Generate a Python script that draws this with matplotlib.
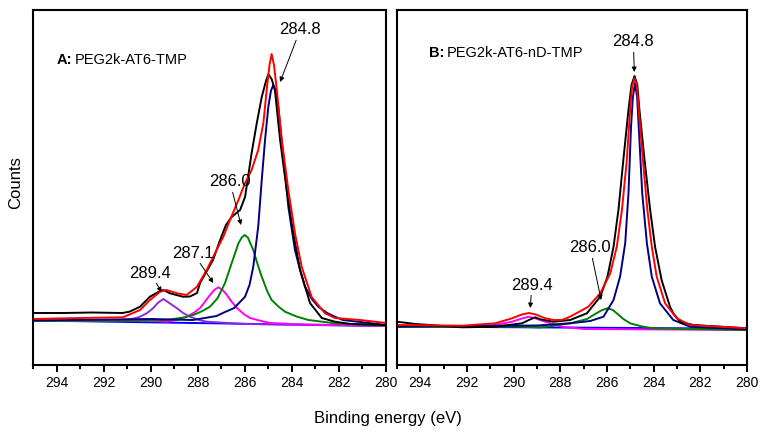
"""C1s XPS spectra of the two PEG2k-AT6 samples with fitted components."""

import matplotlib

matplotlib.use("Agg")

import matplotlib.pyplot as plt
from matplotlib.ticker import MultipleLocator

plt.rcParams["font.family"] = ["Liberation Sans", "DejaVu Sans"]

# ---- panel A: PEG2k-AT6-TMP (binding energy eV, counts a.u.) ----
a_raw_e = [295.0, 293.7, 292.5, 291.2, 290.9, 290.45, 290.03, 289.6, 289.45, 289.18,
           288.63, 288.33, 288.03, 287.9, 287.35, 287.05, 286.8, 286.56, 286.2, 285.99,
           285.88, 285.71, 285.49, 285.28, 285.1, 285.0, 284.86, 284.72, 284.5, 284.22,
           283.94, 283.65, 283.23, 282.73, 282.17, 281.5, 280.0]
a_raw_y = [52, 52, 52.5, 52, 53.3, 58.3, 68.3, 74, 75, 71.7,
           68.3, 68.5, 72, 82, 105, 125, 140, 148, 155, 168,
           185, 212, 242, 268, 284, 290.7, 286, 275, 225, 175,
           132, 95, 62, 47, 43.3, 41, 40]

a_env_e = [295.0, 293.0, 291.18, 290.45, 290.03, 289.6, 289.33, 288.88, 288.47, 288.04,
           287.62, 287.27, 286.91, 286.63, 286.27, 285.99, 285.71, 285.43, 285.21, 285.07,
           284.95, 284.86, 284.76, 284.64, 284.43, 284.15, 283.87, 283.58, 283.16, 282.59,
           282.17, 281.1, 280.0]
a_env_y = [46, 47, 47.7, 55, 65, 73.3, 75, 71.7, 70, 78,
           95, 111.7, 128.3, 145, 165, 182, 195, 215, 242, 275,
           300, 311, 300, 275, 225, 175, 132, 98, 68, 51.7,
           47, 45, 42]

a_c1_e = [295.0, 290.0, 288.2, 287.2, 286.84, 286.45, 285.99, 285.8, 285.64, 285.43,
          285.28, 285.14, 285.0, 284.89, 284.79, 284.69, 284.58, 284.36, 284.15, 283.87,
          283.64, 283.44, 283.15, 282.88, 282.5, 282.17, 281.83, 280.0]
a_c1_y = [44.5, 46, 45, 49, 53, 57, 68.3, 80, 98.3, 138.3,
          185, 225, 258.3, 274, 280, 274, 258.3, 208.3, 158.3, 115,
          94, 78.3, 66, 58.3, 52, 48.3, 45, 40]

a_c2_e = [295.0, 291.0, 289.32, 288.6, 288.19, 287.8, 287.48, 287.15, 286.84, 286.56,
          286.27, 286.13, 286.0, 285.87, 285.64, 285.46, 285.28, 285.05, 284.86, 284.55,
          284.29, 283.8, 283.3, 282.17, 280.0]
a_c2_y = [44, 44.5, 45, 47.5, 50, 54, 58.3, 67, 82, 101.7,
          121.7, 127.5, 130, 127.5, 115, 101, 88.3, 74, 65, 58,
          53.3, 48.5, 45, 41.7, 39.5]

a_c3_e = [295.0, 290.0, 289.32, 288.8, 288.46, 288.15, 287.9, 287.7, 287.48, 287.3,
          287.12, 286.94, 286.76, 286.55, 286.33, 286.05, 285.78, 285.3, 284.93, 283.5, 280.0]
a_c3_y = [44, 44.5, 43.3, 45.5, 48.3, 52.5, 57, 63, 70, 75,
          77.7, 75, 70, 63, 57, 51, 47, 44, 42, 40.5, 39.5]

a_c4_e = [295.0, 293.73, 291.18, 290.7, 290.45, 290.15, 289.9, 289.68, 289.46, 289.24,
          288.88, 288.62, 288.33, 287.95, 287.62, 286.0, 280.0]
a_c4_y = [44.5, 44, 45, 46.5, 48.3, 52, 56.7, 62.5, 66, 62.5,
          56.7, 52, 48.3, 45, 43.3, 41, 39]

a_bg_e = [295.0, 280.0]
a_bg_y = [44.5, 39]

# ---- panel B: PEG2k-AT6-nD-TMP ----
b_raw_e = [295.0, 294.21, 292.21, 290.79, 289.64, 289.3, 289.08, 288.86, 288.29, 287.58,
           286.86, 286.29, 285.98, 285.72, 285.51, 285.3, 285.08, 284.95, 284.82, 284.7,
           284.61, 284.39, 284.15, 283.94, 283.66, 283.3, 283.16, 282.87, 282.3, 280.0]
b_raw_y = [43.3, 41, 37.7, 38.3, 41.7, 45.5, 47.7, 45.7, 43.3, 45,
           51.7, 68.3, 88.3, 118.3, 155, 205, 255, 280, 289, 280,
           255, 205, 155, 118.3, 85, 58.3, 51.7, 43.3, 40, 36.7]

b_env_e = [295.0, 292.21, 290.79, 290.07, 289.65, 289.35, 289.05, 288.65, 288.29, 287.93,
           287.58, 286.8, 286.29, 285.86, 285.58, 285.36, 285.15, 285.01, 284.92, 284.82,
           284.72, 284.64, 284.46, 284.27, 284.08, 283.87, 283.51, 283.01, 282.44, 280.0]
b_env_y = [40, 39.3, 41.7, 46.7, 50.5, 52, 50.5, 46.7, 45, 45,
           48.3, 58.3, 71.7, 91.7, 118.3, 155, 205, 255, 279, 286.7,
           279, 255, 205, 155, 118.3, 88.3, 61.7, 46.7, 40, 36.7]

b_c1_e = [295.0, 289.0, 287.58, 286.72, 286.15, 285.72, 285.44, 285.22, 285.08, 284.97,
          284.89, 284.8, 284.71, 284.64, 284.49, 284.29, 284.08, 283.73, 283.16, 282.44, 280.0]
b_c1_y = [38.5, 39.5, 41.7, 44, 48.3, 65, 88.3, 121.7, 171.7, 238.3,
          268, 281.7, 268, 238.3, 171.7, 121.7, 88.3, 61.7, 45, 38.3, 35.5]

b_c2_e = [295.0, 290.0, 288.86, 287.58, 286.85, 286.58, 286.25, 285.98, 285.75, 285.58,
          285.3, 285.01, 284.5, 284.0, 280.0]
b_c2_y = [38, 38.5, 37.5, 41.7, 46, 50, 54.5, 56.7, 55, 51.7,
          46, 41.7, 38.5, 36.7, 35]

b_c3_e = [295.0, 291.5, 290.79, 290.07, 289.65, 289.35, 289.05, 288.65, 287.93, 287.0, 280.0]
b_c3_y = [38.5, 39, 40, 43.3, 46.5, 48.3, 46.5, 43.3, 38.3, 36, 35]

b_bg_e = [295.0, 280.0]
b_bg_y = [38.5, 36.3]

LW = 1.4
C_RAW, C_ENV, C_MAIN = "black", "#ff0000", "#000080"
C_286, C_287, C_289, C_BG = "#008000", "#ff00ff", "#8a2be2", "#0000ff"

fig = plt.figure(figsize=(7.64, 4.37), dpi=100)
ax_a = fig.add_axes([33 / 764, 72 / 437, 353 / 764, 355 / 437])
ax_b = fig.add_axes([397 / 764, 72 / 437, 350 / 764, 355 / 437])

arrow = dict(arrowstyle="-|>", color="black", lw=0.7, mutation_scale=7, shrinkA=0, shrinkB=0)


def style_axes(ax):
    ax.set_xlim(295, 280)
    ax.set_ylim(0, 355)
    ax.set_yticks([])
    ax.xaxis.set_major_locator(MultipleLocator(2))
    ax.xaxis.set_minor_locator(MultipleLocator(1))
    ax.tick_params(axis="x", which="major", direction="out", length=5, width=1.4,
                   labelsize=10, pad=3)
    ax.tick_params(axis="x", which="minor", direction="out", length=3, width=1.4)
    for spine in ax.spines.values():
        spine.set_linewidth(1.5)


def label(ax, x, y, bold, rest):
    t = ax.text(x, y, bold, fontsize=10.5, fontweight="bold", va="center", ha="left")
    ax.annotate(rest, xy=(1, 0.5), xycoords=t, va="center", ha="left", fontsize=10.5,
                xytext=(2, 0), textcoords="offset points")


# panel A
ax_a.plot(a_bg_e, a_bg_y, color=C_BG, lw=LW)
ax_a.plot(a_c4_e, a_c4_y, color=C_289, lw=LW)
ax_a.plot(a_c3_e, a_c3_y, color=C_287, lw=LW)
ax_a.plot(a_c2_e, a_c2_y, color=C_286, lw=LW)
ax_a.plot(a_c1_e, a_c1_y, color=C_MAIN, lw=LW)
ax_a.plot(a_raw_e, a_raw_y, color=C_RAW, lw=LW)
ax_a.plot(a_env_e, a_env_y, color=C_ENV, lw=LW)
style_axes(ax_a)
label(ax_a, 294.0, 305, "A:", "PEG2k-AT6-TMP")
ax_a.annotate("284.8", xy=(284.5, 283), xytext=(283.65, 335), ha="center", va="center",
              fontsize=12, arrowprops=arrow)
ax_a.annotate("286.0", xy=(286.16, 140), xytext=(286.63, 183), ha="center", va="center",
              fontsize=12, arrowprops=arrow)
ax_a.annotate("287.1", xy=(287.34, 82), xytext=(288.19, 112), ha="center", va="center",
              fontsize=12, arrowprops=arrow)
ax_a.annotate("289.4", xy=(289.53, 73), xytext=(290.03, 92), ha="center", va="center",
              fontsize=12, arrowprops=arrow)

# panel B
ax_b.plot(b_bg_e, b_bg_y, color=C_BG, lw=LW)
ax_b.plot(b_c3_e, b_c3_y, color=C_287, lw=LW)
ax_b.plot(b_c2_e, b_c2_y, color=C_286, lw=LW)
ax_b.plot(b_c1_e, b_c1_y, color=C_MAIN, lw=LW)
ax_b.plot(b_raw_e, b_raw_y, color=C_RAW, lw=LW)
ax_b.plot(b_env_e, b_env_y, color=C_ENV, lw=LW)
style_axes(ax_b)
label(ax_b, 293.64, 312, "B:", "PEG2k-AT6-nD-TMP")
ax_b.annotate("284.8", xy=(284.83, 293), xytext=(284.87, 323), ha="center", va="center",
              fontsize=12, arrowprops=arrow)
ax_b.annotate("286.0", xy=(286.25, 65), xytext=(286.72, 117), ha="center", va="center",
              fontsize=12, arrowprops=arrow)
ax_b.annotate("289.4", xy=(289.29, 57), xytext=(289.22, 80), ha="center", va="center",
              fontsize=12, arrowprops=arrow)

fig.text(388 / 764, 1 - 418 / 437, "Binding energy (eV)", ha="center", va="center",
         fontsize=12)
fig.text(16 / 764, 1 - 183 / 437, "Counts", ha="center", va="center", rotation=90,
         fontsize=12)

fig.savefig("out.png", dpi=100)
